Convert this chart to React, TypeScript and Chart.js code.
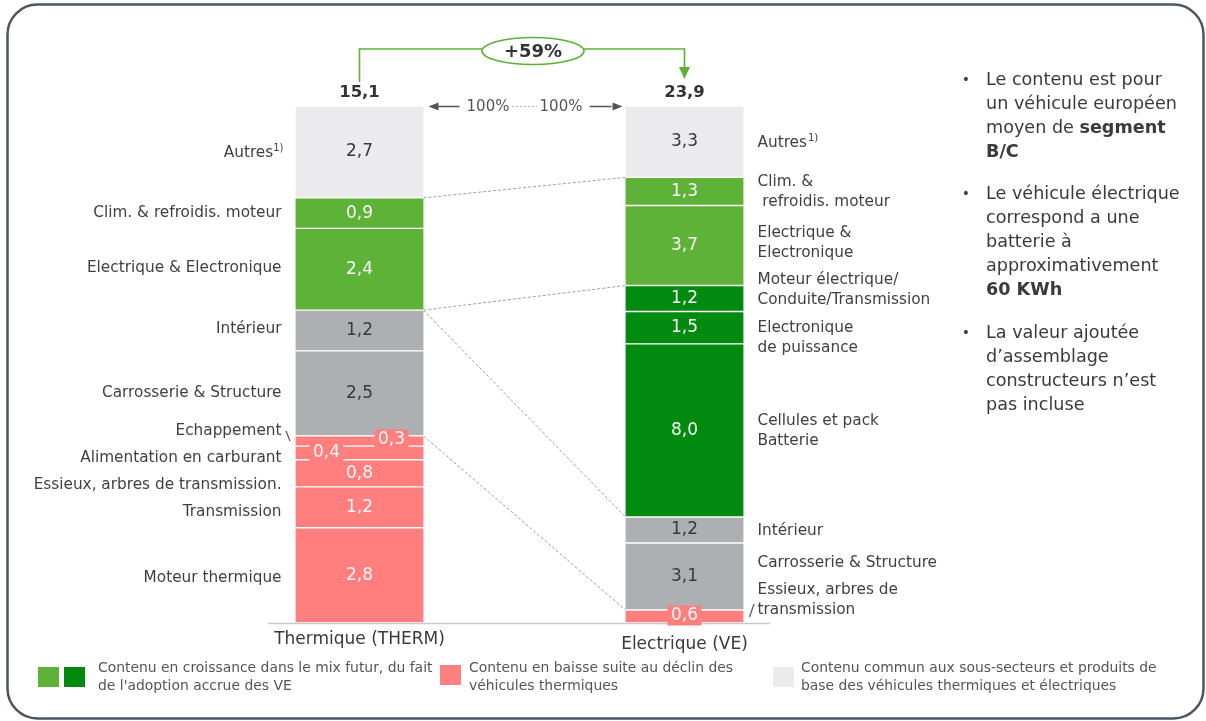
import { useEffect, useRef } from 'react';
import { Chart, registerables } from 'chart.js';

Chart.register(...registerables);

// ---- data -------------------------------------------------------------
const CATEGORIES = ['Thermique (THERM)', 'Electrique (VE)'];
const TOTAL_LABELS = ['15,1', '23,9'];
const GROWTH_LABEL = '+59%';
const SHARE_LABEL = '100%';

// Segments listed bottom → top
const THERM_PARTS = [
  'Moteur thermique',
  'Transmission',
  'Essieux, arbres de transmission.',
  'Alimentation en carburant',
  'Echappement',
  'Carrosserie & Structure',
  'Intérieur',
  'Electrique & Electronique',
  'Clim. & refroidis. moteur',
  'Autres',
];
const THERM_VALUES = [2.8, 1.2, 0.8, 0.4, 0.3, 2.5, 1.2, 2.4, 0.9, 2.7];
const THERM_KINDS = ['baisse', 'baisse', 'baisse', 'baisse', 'baisse', 'commun', 'commun', 'croissance', 'croissance', 'autres'];

const VE_PARTS = [
  ['Essieux, arbres de', 'transmission'],
  ['Carrosserie & Structure'],
  ['Intérieur'],
  ['Cellules et pack', 'Batterie'],
  ['Electronique', 'de puissance'],
  ['Moteur électrique/', 'Conduite/Transmission'],
  ['Electrique &', 'Electronique'],
  ['Clim. &', ' refroidis. moteur'],
  ['Autres'],
];
const VE_VALUES = [0.6, 3.1, 1.2, 8.0, 1.5, 1.2, 3.7, 1.3, 3.3];
const VE_KINDS = ['baisse', 'commun', 'commun', 'nouveau', 'nouveau', 'nouveau', 'croissance', 'croissance', 'autres'];

const FOOTNOTE_MARK = '1)';

const LEGEND_ITEMS = [
  { kinds: ['croissance', 'nouveau'], lines: ['Contenu en croissance dans le mix futur, du fait', "de l'adoption accrue des VE"] },
  { kinds: ['baisse'], lines: ['Contenu en baisse suite au déclin des', 'véhicules thermiques'] },
  { kinds: ['autres'], lines: ['Contenu commun aux sous-secteurs et produits de', 'base des véhicules thermiques et électriques'] },
];

const NOTES: [string, boolean][][][] = [
  [[['Le contenu est pour', false]], [['un véhicule européen', false]], [['moyen de ', false], ['segment', true]], [['B/C', true]]],
  [[['Le véhicule électrique', false]], [['correspond a une', false]], [['batterie à', false]], [['approximativement', false]], [['60 KWh', true]]],
  [[['La valeur ajoutée', false]], [['d’assemblage', false]], [['constructeurs n’est', false]], [['pas incluse', false]]],
];

// ---- styling ----------------------------------------------------------
const COLORS: Record<string, string> = {
  baisse: '#ff7f7e',
  commun: '#aeafb2',
  croissance: '#5eb238',
  nouveau: '#008a10',
  autres: '#ebebed',
};
const FONT = '"DejaVu Sans", Verdana, sans-serif';
const TEXT = '#404040';
const GREEN_LINE = '#5db135';
const LABEL_SIZE = 15.3;

// vertical nudges of the side captions relative to the segment centre
const THERM_LABEL_DY = [2.5, 4.5, 11.5, 5, -10, 0, -1.5, -1.5, 0, 1];
const VE_LABEL_DY = [-16.5, -13, 1, 1, 10, -8, -2.5, 1, 1.5];

// value badges that sit off-centre on a salmon patch
const THERM_BADGES: Record<number, { dx: number; dy: number }> = { 4: { dx: 32, dy: -1.5 }, 3: { dx: -33, dy: 0 } };
const VE_BADGES: Record<number, { dx: number; dy: number }> = { 0: { dx: 0, dy: -1 } };

const sum = (a: number[]) => a.reduce((s, v) => s + v, 0);
const fmt = (v: number) => v.toFixed(1).replace('.', ',');

function setFont(ctx: CanvasRenderingContext2D, size: number, bold = false) {
  ctx.font = `${bold ? 'bold ' : ''}${size}px ${FONT}`;
}

function drawText(
  ctx: CanvasRenderingContext2D,
  str: string,
  x: number,
  y: number,
  size: number,
  color: string,
  align: CanvasTextAlign = 'left',
  bold = false,
) {
  setFont(ctx, size, bold);
  ctx.fillStyle = color;
  ctx.textAlign = align;
  ctx.textBaseline = 'middle';
  ctx.fillText(str, x, y);
}

const decorations = {
  id: 'decorations',
  beforeDraw(chart: any) {
    const ctx: CanvasRenderingContext2D = chart.ctx;
    ctx.save();
    ctx.fillStyle = '#ffffff';
    ctx.fillRect(0, 0, chart.width, chart.height);
    ctx.strokeStyle = '#4d5562';
    ctx.lineWidth = 2.5;
    ctx.beginPath();
    (ctx as any).roundRect(7.5, 4.5, 1196, 714, 30);
    ctx.stroke();
    ctx.restore();
  },
  beforeDatasetsDraw(chart: any) {
    const ctx: CanvasRenderingContext2D = chart.ctx;
    const T = (i: number) => chart.getDatasetMeta(i).data[0];
    const V = (i: number) => chart.getDatasetMeta(THERM_VALUES.length + i).data[1];
    const area = chart.chartArea;
    ctx.save();
    // base line
    ctx.strokeStyle = '#c9c9c9';
    ctx.lineWidth = 1.5;
    ctx.beginPath();
    ctx.moveTo(268, area.bottom + 0.5);
    ctx.lineTo(770, area.bottom + 0.5);
    ctx.stroke();
    // dotted links between matching boundaries
    const links = [
      [8, 7],
      [6, 5],
      [6, 2],
      [4, 0],
    ];
    ctx.strokeStyle = '#9f9f9f';
    ctx.lineWidth = 1;
    ctx.setLineDash([3, 2]);
    links.forEach(([a, b]) => {
      const ea = T(a);
      const eb = V(b);
      ctx.beginPath();
      ctx.moveTo(ea.x + ea.width / 2, ea.y);
      ctx.lineTo(eb.x - eb.width / 2, eb.y);
      ctx.stroke();
    });
    ctx.setLineDash([]);
    ctx.restore();
  },
  afterDatasetsDraw(chart: any) {
    const ctx: CanvasRenderingContext2D = chart.ctx;
    const T = (i: number) => chart.getDatasetMeta(i).data[0];
    const V = (i: number) => chart.getDatasetMeta(THERM_VALUES.length + i).data[1];
    const area = chart.chartArea;
    ctx.save();

    const valueLabel = (el: any, v: number, kind: string, badge?: { dx: number; dy: number }) => {
      const cx = el.x + (badge ? badge.dx : 0);
      const cy = (el.y + el.base) / 2 + (badge ? badge.dy : 0);
      const s = fmt(v);
      const light = kind === 'commun' || kind === 'autres';
      if (badge) {
        setFont(ctx, 17);
        const w = ctx.measureText(s).width + 7;
        ctx.fillStyle = COLORS[kind];
        ctx.fillRect(cx - w / 2, cy - 10, w, 20);
      }
      drawText(ctx, s, cx, cy, 17, light ? '#3a3a3a' : '#f7f7f7', 'center');
    };

    THERM_VALUES.forEach((v, i) => valueLabel(T(i), v, THERM_KINDS[i], THERM_BADGES[i]));
    VE_VALUES.forEach((v, i) => valueLabel(V(i), v, VE_KINDS[i], VE_BADGES[i]));

    // captions left of the combustion bar
    const leftEdge = T(0).x - T(0).width / 2 - 14;
    THERM_PARTS.forEach((name, i) => {
      const el = T(i);
      const cy = (el.y + el.base) / 2 + THERM_LABEL_DY[i];
      if (name === 'Autres') {
        setFont(ctx, 10);
        const w = ctx.measureText(FOOTNOTE_MARK).width;
        drawText(ctx, FOOTNOTE_MARK, leftEdge + 2, cy - 5, 10, TEXT, 'right');
        drawText(ctx, name, leftEdge + 2 - w, cy, LABEL_SIZE, TEXT, 'right');
      } else {
        drawText(ctx, name, leftEdge, cy, LABEL_SIZE, TEXT, 'right');
      }
    });
    // leader for "Echappement"
    ctx.strokeStyle = '#555';
    ctx.lineWidth = 1.2;
    ctx.beginPath();
    ctx.moveTo(286, 431);
    ctx.lineTo(290, 441);
    ctx.stroke();

    // captions right of the electric bar
    const rightEdge = V(0).x + V(0).width / 2 + 14;
    VE_PARTS.forEach((lines, i) => {
      const el = V(i);
      const cy = (el.y + el.base) / 2 + VE_LABEL_DY[i];
      const top = cy - ((lines.length - 1) * 20) / 2;
      lines.forEach((ln, k) => {
        drawText(ctx, ln, rightEdge, top + k * 20, LABEL_SIZE, TEXT, 'left');
        if (ln === 'Autres') {
          setFont(ctx, LABEL_SIZE);
          const w = ctx.measureText(ln).width;
          drawText(ctx, FOOTNOTE_MARK, rightEdge + w + 1, top - 5, 10, TEXT, 'left');
        }
      });
    });
    // leader for the axle caption
    ctx.beginPath();
    ctx.moveTo(754, 604);
    ctx.lineTo(749.5, 617);
    ctx.stroke();

    // totals above the bars
    const lx = T(0).x;
    const rx = V(0).x;
    drawText(ctx, TOTAL_LABELS[0], lx, 93, 16.5, '#333', 'center', true);
    drawText(ctx, TOTAL_LABELS[1], rx, 93, 16.5, '#333', 'center', true);

    // growth bracket
    const gy = 49;
    const ex = (lx + rx) / 2 + 11;
    const erx = 51;
    ctx.strokeStyle = GREEN_LINE;
    ctx.lineWidth = 1.6;
    ctx.beginPath();
    ctx.moveTo(lx, 82);
    ctx.lineTo(lx, gy);
    ctx.lineTo(ex - erx, gy);
    ctx.stroke();
    ctx.beginPath();
    ctx.moveTo(ex + erx, gy);
    ctx.lineTo(rx, gy);
    ctx.lineTo(rx, 69);
    ctx.stroke();
    ctx.fillStyle = GREEN_LINE;
    ctx.beginPath();
    ctx.moveTo(rx - 5.5, 67);
    ctx.lineTo(rx + 5.5, 67);
    ctx.lineTo(rx, 79);
    ctx.closePath();
    ctx.fill();
    ctx.beginPath();
    ctx.ellipse(ex, 51, erx, 13.5, 0, 0, Math.PI * 2);
    ctx.fillStyle = '#fff';
    ctx.fill();
    ctx.stroke();
    drawText(ctx, GROWTH_LABEL, ex, 52, 18, '#333', 'center', true);

    // 100% / 100% arrows
    const ay = area.top + 0.5;
    const lRight = lx + T(0).width / 2;
    const rLeft = rx - V(0).width / 2;
    ctx.strokeStyle = '#555';
    ctx.fillStyle = '#555';
    ctx.lineWidth = 1.5;
    ctx.beginPath();
    ctx.moveTo(lRight + 14, ay);
    ctx.lineTo(lRight + 36, ay);
    ctx.stroke();
    ctx.beginPath();
    ctx.moveTo(lRight + 5, ay);
    ctx.lineTo(lRight + 15, ay - 4);
    ctx.lineTo(lRight + 15, ay + 4);
    ctx.closePath();
    ctx.fill();
    ctx.beginPath();
    ctx.moveTo(rLeft - 36, ay);
    ctx.lineTo(rLeft - 14, ay);
    ctx.stroke();
    ctx.beginPath();
    ctx.moveTo(rLeft - 3, ay);
    ctx.lineTo(rLeft - 13, ay - 4);
    ctx.lineTo(rLeft - 13, ay + 4);
    ctx.closePath();
    ctx.fill();
    drawText(ctx, SHARE_LABEL, 488, ay + 1, 15, '#555', 'center');
    drawText(ctx, SHARE_LABEL, 561, ay + 1, 15, '#555', 'center');
    ctx.strokeStyle = '#b5b5b5';
    ctx.lineWidth = 1;
    ctx.setLineDash([2, 2]);
    ctx.beginPath();
    ctx.moveTo(512, ay);
    ctx.lineTo(537, ay);
    ctx.stroke();
    ctx.setLineDash([]);

    // category names
    drawText(ctx, CATEGORIES[0], lx, 640, 17, '#3a3a3a', 'center');
    drawText(ctx, CATEGORIES[1], rx, 645, 17, '#3a3a3a', 'center');

    // legend
    const legendX = [38, 440, 773];
    const legendTextX = [98, 469, 801];
    LEGEND_ITEMS.forEach((item, i) => {
      item.kinds.forEach((k, j) => {
        ctx.fillStyle = COLORS[k];
        ctx.fillRect(legendX[i] + j * 26, i === 1 ? 665 : 667, 21, 20);
      });
      item.lines.forEach((ln, k) => {
        drawText(ctx, ln, legendTextX[i], 668 + k * 18.5, 13.9, '#555', 'left');
      });
    });

    // notes on the right
    let y = 80;
    NOTES.forEach((para) => {
      drawText(ctx, '•', 966, y, 14, '#444', 'center');
      para.forEach((line) => {
        let x = 986;
        line.forEach(([s, bold]) => {
          drawText(ctx, s, x, y, 17.6, '#3a3a3a', 'left', bold);
          setFont(ctx, 17.6, bold);
          x += ctx.measureText(s).width;
        });
        y += 24;
      });
      y += 18.5;
    });

    ctx.restore();
  },
};

export default function App() {
  const canvasRef = useRef<HTMLCanvasElement | null>(null);

  useEffect(() => {
    const canvas = canvasRef.current;
    if (!canvas) return;
    const thermSum = sum(THERM_VALUES);
    const veSum = sum(VE_VALUES);
    const segStyle = {
      borderColor: '#ffffff',
      borderWidth: { top: 1, bottom: 1, left: 0, right: 0 },
      borderSkipped: false,
      stack: 'mix',
    };
    const datasets: any[] = [
      ...THERM_VALUES.map((v, i) => ({
        label: THERM_PARTS[i],
        data: [(v / thermSum) * 100, null],
        backgroundColor: COLORS[THERM_KINDS[i]],
        barThickness: 128,
        ...segStyle,
      })),
      ...VE_VALUES.map((v, i) => ({
        label: VE_PARTS[i].join(' '),
        data: [null, (v / veSum) * 100],
        backgroundColor: COLORS[VE_KINDS[i]],
        barThickness: 118,
        ...segStyle,
      })),
    ];

    const chart = new Chart(canvas, {
      type: 'bar',
      data: { labels: CATEGORIES, datasets },
      options: {
        responsive: false,
        animation: false,
        devicePixelRatio: 1,
        layout: { padding: { left: 197, right: 359, top: 106, bottom: 98 } },
        scales: {
          x: { display: false, stacked: true },
          y: { display: false, stacked: true, min: 0, max: 100 },
        },
        plugins: {
          legend: { display: false },
          tooltip: { enabled: false },
        },
      },
      plugins: [decorations],
    });
    return () => chart.destroy();
  }, []);

  return (
    <div style={{ position: 'fixed', left: 0, top: 0, width: 1206, height: 721, background: '#fff' }}>
      <canvas ref={canvasRef} width={1206} height={721} style={{ display: 'block' }} />
    </div>
  );
}
